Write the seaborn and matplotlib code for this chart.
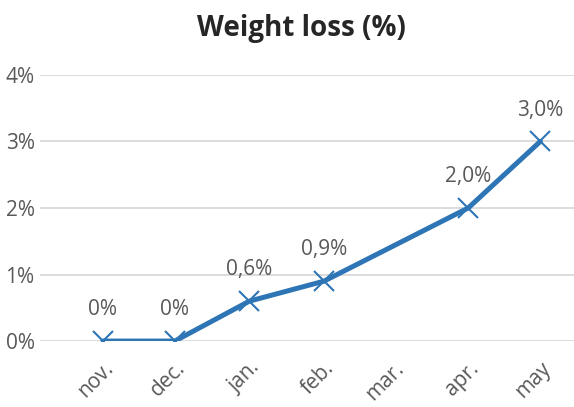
import numpy as np
import pandas as pd
import matplotlib
matplotlib.use("Agg")
import matplotlib.pyplot as plt
import seaborn as sns

### DATA ###
months = ["2023-11-01", "2023-12-01", "2024-01-01", "2024-02-01", "2024-04-01", "2024-05-01"]
loss = [0.0, 0.0, 0.006, 0.009, 0.020, 0.030]
point_labels = ["0%", "0%", "0,6%", "0,9%", "2,0%", "3,0%"]
tick_months = ["2023-11-01", "2023-12-01", "2024-01-01", "2024-02-01", "2024-03-01", "2024-04-01", "2024-05-01"]
tick_labels = ["nov.", "dec.", "jan.", "feb.", "mar.", "apr.", "may"]

df = pd.DataFrame({"month": pd.to_datetime(months), "loss": loss})

sns.set_theme(style="white")
plt.rcParams["font.family"] = ["Open Sans", "DejaVu Sans"]

blue = "#2E75B6"
grey = "#595959"

fig = plt.figure(figsize=(5.74, 4.07), dpi=100)
ax = fig.add_axes([0.07, 0.162, 0.93, 0.654])

sns.lineplot(data=df, x="month", y="loss", ax=ax, color=blue, linewidth=3.6,
             marker="x", markersize=15, markeredgewidth=1.5, markeredgecolor=blue)

ax.set_ylim(0, 0.04)
ax.set_xlim(pd.Timestamp("2023-10-06"), pd.Timestamp("2024-05-15"))
ax.set_yticks([0, 0.01, 0.02, 0.03, 0.04])
ax.set_yticklabels(["0%", "1%", "2%", "3%", "4%"], color=grey, fontsize=15)
ax.set_xticks(pd.to_datetime(tick_months))
ax.set_xticklabels(tick_labels, rotation=45, ha="right", rotation_mode="anchor",
                   color=grey, fontsize=15)
ax.tick_params(axis="x", length=0, pad=12)
ax.tick_params(axis="y", length=0, pad=4)
ax.grid(axis="y", color="#D9D9D9", linewidth=1.3)
ax.set_axisbelow(True)
for s in ax.spines.values():
    s.set_visible(False)
ax.set_xlabel("")
ax.set_ylabel("")

# data labels
for d, v, t in zip(df["month"], df["loss"], point_labels):
    ax.annotate(t, (d, v), xytext=(0, 15), textcoords="offset points",
                ha="center", va="bottom", color=grey, fontsize=15)

fig.text(0.525, 0.93, "Weight loss (%)", ha="center", va="center",
         fontsize=20, fontweight="bold", color="#262626")

fig.savefig("out.png", dpi=100)
